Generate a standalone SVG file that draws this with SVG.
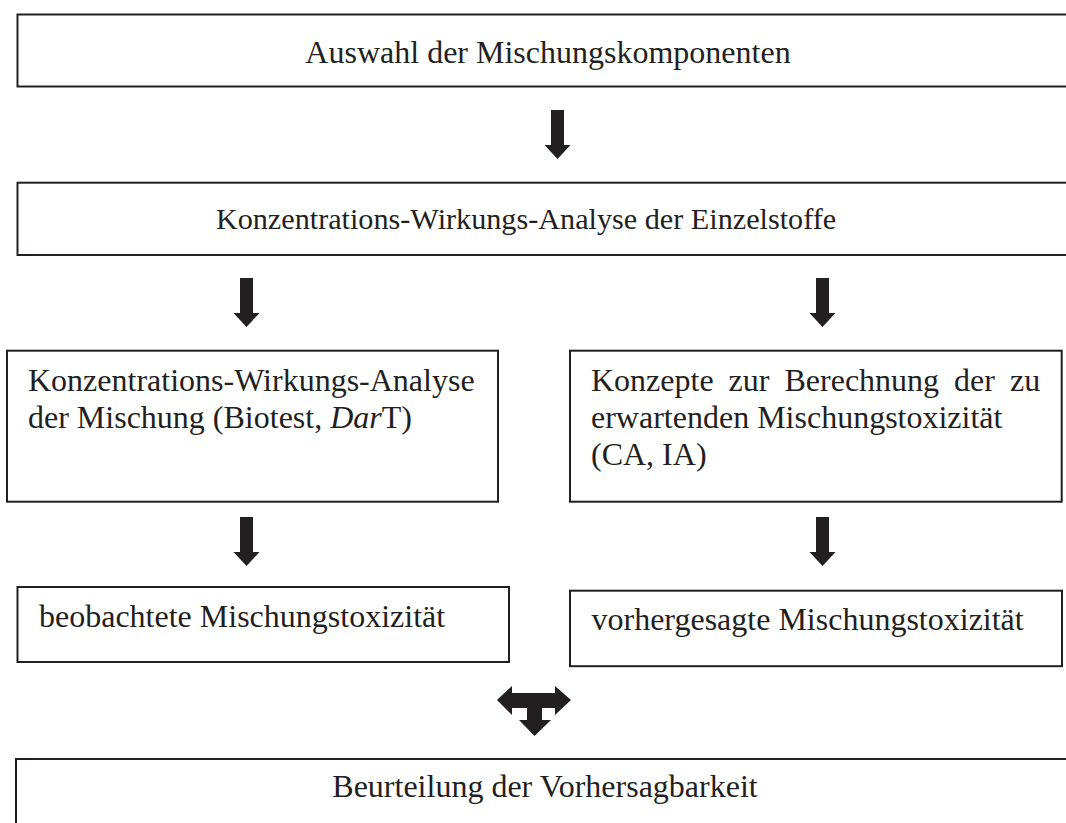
<svg xmlns="http://www.w3.org/2000/svg" xmlns:xlink="http://www.w3.org/1999/xlink" width="1066" height="823" viewBox="0 0 1066 823">
<style>
.box{fill:#fff;stroke:#231f20;stroke-width:2}
.t{font-family:"Liberation Serif","Times New Roman",serif;font-size:32px;fill:#231f20}
.s{font-size:30.2px}
.arr{fill:#231f20}
</style>
<defs>
<path id="down" d="M-6.5,0 H6.5 V35 H13 L0,49 L-13,35 H-6.5 Z"/>
</defs>
<rect width="1066" height="823" fill="#fff"/>
<g id="n1">
<rect class="box" x="17.5" y="14.5" width="1060" height="72"/>
<text class="t" x="548" y="62.5" text-anchor="middle">Auswahl der Mischungskomponenten</text>
</g>
<g id="n2">
<rect class="box" x="17.5" y="182.7" width="1060" height="72.3"/>
<text class="t s" x="526" y="228.5" text-anchor="middle">Konzentrations-Wirkungs-Analyse der Einzelstoffe</text>
</g>
<g id="n3">
<rect class="box" x="7" y="350.7" width="491" height="151"/>
<text class="t" x="28" y="391">Konzentrations-Wirkungs-Analyse</text>
<text class="t" x="28" y="428">der Mischung (Biotest, <tspan font-style="italic">Dar</tspan>T)</text>
</g>
<g id="n4">
<rect class="box" x="570" y="350.7" width="491.7" height="151"/>
<text class="t" y="391"><tspan x="591">Konzepte</tspan><tspan x="728.6">zur</tspan><tspan x="784.5">Berechnung</tspan><tspan x="954.1">der</tspan><tspan x="1010">zu</tspan></text>
<text class="t" x="591" y="428">erwartenden Mischungstoxizität</text>
<text class="t" x="591" y="465">(CA, IA)</text>
</g>
<g id="n5">
<rect class="box" x="17.5" y="587" width="491.5" height="75"/>
<text class="t" x="39" y="627">beobachtete Mischungstoxizität</text>
</g>
<g id="n6">
<rect class="box" x="570" y="590.7" width="492" height="75.5"/>
<text class="t" x="591.5" y="630">vorhergesagte Mischungstoxizität</text>
</g>
<g id="n7">
<rect class="box" x="16" y="759" width="1060" height="100"/>
<text class="t" x="545" y="797" text-anchor="middle">Beurteilung der Vorhersagbarkeit</text>
</g>
<g id="connectors" class="arr">
<use xlink:href="#down" x="557.5" y="110"/>
<use xlink:href="#down" x="246.5" y="278"/>
<use xlink:href="#down" x="822.5" y="278"/>
<use xlink:href="#down" x="246.5" y="517"/>
<use xlink:href="#down" x="822.5" y="517"/>
<path d="M497,700 L512,686 V693 H555 V686 L571,700 L555,715 V708 H542 V720 H551 L534.5,736 L519,720 H527 V708 H512 V715 Z"/>
</g>
</svg>
